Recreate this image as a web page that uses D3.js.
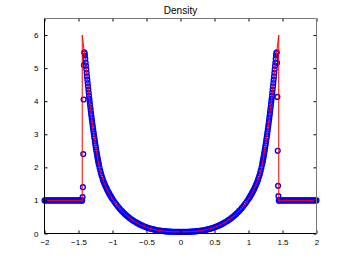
<!DOCTYPE html>
<html>
<head>
<meta charset="utf-8">
<script src="https://cdn.jsdelivr.net/npm/d3@7"></script>
<style>
  body { margin: 0; background: #fff; }
  text { font-family: "Liberation Sans", Arial, Helvetica, sans-serif; }
</style>
</head>
<body>
<script>
// Tick values
var xTicks = [-2, -1.5, -1, -0.5, 0, 0.5, 1, 1.5, 2];
var yTicks = [0, 1, 2, 3, 4, 5, 6];

// Blue circles, left half (x < 0 and x = 0)
var leftX = [
  -2, -1.98, -1.96, -1.94, -1.92, -1.9, -1.88, -1.86, -1.84, -1.82, -1.8, -1.78, -1.76, -1.74, -1.72,
  -1.7, -1.68, -1.66, -1.64, -1.62, -1.6, -1.58, -1.56, -1.54, -1.52, -1.5, -1.48, -1.46, -1.45, -1.445,
  -1.44, -1.435, -1.43, -1.425, -1.42,
  -1.415, -1.41, -1.405, -1.4, -1.395, -1.39, -1.385, -1.38, -1.375, -1.37, -1.365, -1.36, -1.355, -1.35,
  -1.345, -1.34, -1.335, -1.33, -1.325, -1.32, -1.315, -1.31, -1.305, -1.3, -1.295, -1.29, -1.285, -1.28,
  -1.275, -1.27, -1.265, -1.26, -1.255, -1.25, -1.245, -1.24, -1.235, -1.23, -1.225, -1.22, -1.215, -1.21,
  -1.205, -1.2,
  -1.19, -1.18, -1.17, -1.16, -1.15, -1.14, -1.13, -1.12, -1.11, -1.1, -1.09, -1.08, -1.07, -1.06, -1.05,
  -1.04, -1.03, -1.02, -1.01, -1,
  -0.98, -0.96, -0.94, -0.92, -0.9, -0.88, -0.86, -0.84, -0.82, -0.8, -0.78, -0.76, -0.74, -0.72, -0.7,
  -0.68, -0.66, -0.64, -0.62, -0.6, -0.58, -0.56, -0.54, -0.52, -0.5, -0.48, -0.46, -0.44, -0.42, -0.4,
  -0.38, -0.36, -0.34, -0.32, -0.3, -0.28, -0.26, -0.24, -0.22, -0.2, -0.18, -0.16, -0.14, -0.12, -0.1,
  -0.08, -0.06, -0.04, -0.02, 0
];
var leftY = [
  1, 1, 1, 1, 1, 1, 1, 1, 1, 1, 1, 1, 1, 1, 1,
  1, 1, 1, 1, 1, 1, 1, 1, 1, 1, 1, 1, 1, 1, 1,
  1.10, 1.40, 2.40, 4.05, 5.09,
  5.48, 5.45, 5.38, 5.28, 5.17, 5.07, 4.96, 4.86, 4.75, 4.65, 4.55, 4.45, 4.35, 4.26,
  4.16, 4.07, 3.98, 3.89, 3.80, 3.72, 3.63, 3.55, 3.47, 3.39, 3.31, 3.23, 3.16, 3.08,
  3.01, 2.94, 2.87, 2.80, 2.73, 2.66, 2.60, 2.53, 2.47, 2.41, 2.35, 2.29, 2.235, 2.18,
  2.13, 2.08,
  1.988, 1.900, 1.823, 1.750, 1.683, 1.620, 1.566, 1.515, 1.467, 1.420, 1.374, 1.330, 1.289, 1.250, 1.212,
  1.176, 1.140, 1.106, 1.072, 1.040,
  0.980, 0.923, 0.868, 0.815, 0.765, 0.719, 0.675, 0.633, 0.593, 0.555, 0.520, 0.487, 0.455, 0.424, 0.395,
  0.369, 0.344, 0.320, 0.297, 0.275, 0.255, 0.236, 0.218, 0.201, 0.185, 0.172, 0.159, 0.147, 0.136, 0.125,
  0.116, 0.107, 0.099, 0.092, 0.085, 0.080, 0.075, 0.070, 0.066, 0.062, 0.059, 0.057, 0.055, 0.053, 0.052,
  0.051, 0.051, 0.050, 0.050, 0.050
];

// Blue circles, right half (x > 0)
var rightX = [
  2, 1.98, 1.96, 1.94, 1.92, 1.9, 1.88, 1.86, 1.84, 1.82, 1.8, 1.78, 1.76, 1.74, 1.72,
  1.7, 1.68, 1.66, 1.64, 1.62, 1.6, 1.58, 1.56, 1.54, 1.52, 1.5, 1.48, 1.46, 1.45, 1.445,
  1.44, 1.435, 1.43, 1.425, 1.42,
  1.415, 1.41, 1.405, 1.4, 1.395, 1.39, 1.385, 1.38, 1.375, 1.37, 1.365, 1.36, 1.355, 1.35,
  1.345, 1.34, 1.335, 1.33, 1.325, 1.32, 1.315, 1.31, 1.305, 1.3, 1.295, 1.29, 1.285, 1.28,
  1.275, 1.27, 1.265, 1.26, 1.255, 1.25, 1.245, 1.24, 1.235, 1.23, 1.225, 1.22, 1.215, 1.21,
  1.205, 1.2,
  1.19, 1.18, 1.17, 1.16, 1.15, 1.14, 1.13, 1.12, 1.11, 1.1, 1.09, 1.08, 1.07, 1.06, 1.05,
  1.04, 1.03, 1.02, 1.01, 1,
  0.98, 0.96, 0.94, 0.92, 0.9, 0.88, 0.86, 0.84, 0.82, 0.8, 0.78, 0.76, 0.74, 0.72, 0.7,
  0.68, 0.66, 0.64, 0.62, 0.6, 0.58, 0.56, 0.54, 0.52, 0.5, 0.48, 0.46, 0.44, 0.42, 0.4,
  0.38, 0.36, 0.34, 0.32, 0.3, 0.28, 0.26, 0.24, 0.22, 0.2, 0.18, 0.16, 0.14, 0.12, 0.1,
  0.08, 0.06, 0.04, 0.02
];
var rightY = [
  1, 1, 1, 1, 1, 1, 1, 1, 1, 1, 1, 1, 1, 1, 1,
  1, 1, 1, 1, 1, 1, 1, 1, 1, 1, 1, 1, 1, 1, 1,
  1.13, 1.44, 2.50, 4.13, 5.16,
  5.48, 5.45, 5.38, 5.28, 5.17, 5.07, 4.96, 4.86, 4.75, 4.65, 4.55, 4.45, 4.35, 4.26,
  4.16, 4.07, 3.98, 3.89, 3.80, 3.72, 3.63, 3.55, 3.47, 3.39, 3.31, 3.23, 3.16, 3.08,
  3.01, 2.94, 2.87, 2.80, 2.73, 2.66, 2.60, 2.53, 2.47, 2.41, 2.35, 2.29, 2.235, 2.18,
  2.13, 2.08,
  1.988, 1.900, 1.823, 1.750, 1.683, 1.620, 1.566, 1.515, 1.467, 1.420, 1.374, 1.330, 1.289, 1.250, 1.212,
  1.176, 1.140, 1.106, 1.072, 1.040,
  0.980, 0.923, 0.868, 0.815, 0.765, 0.719, 0.675, 0.633, 0.593, 0.555, 0.520, 0.487, 0.455, 0.424, 0.395,
  0.369, 0.344, 0.320, 0.297, 0.275, 0.255, 0.236, 0.218, 0.201, 0.185, 0.172, 0.159, 0.147, 0.136, 0.125,
  0.116, 0.107, 0.099, 0.092, 0.085, 0.080, 0.075, 0.070, 0.066, 0.062, 0.059, 0.057, 0.055, 0.053, 0.052,
  0.051, 0.051, 0.050, 0.050
];

// Red reference line
var refX = [
  -2, -1.445, -1.445, -1.43, -1.415, -1.4, -1.38, -1.36, -1.34, -1.32, -1.3, -1.28, -1.26, -1.24, -1.22,
  -1.2, -1.18, -1.16, -1.14, -1.12, -1.1, -1.08, -1.05, -1, -0.95, -0.9, -0.8, -0.7, -0.6, -0.5, -0.4,
  -0.3, -0.2, -0.1, 0,
  0.1, 0.2, 0.3, 0.4, 0.5, 0.6, 0.7, 0.8, 0.9, 0.95, 1, 1.05, 1.08, 1.1, 1.12, 1.14, 1.16, 1.18, 1.2,
  1.22, 1.24, 1.26, 1.28, 1.3, 1.32, 1.34, 1.36, 1.38, 1.4, 1.415, 1.43, 1.445, 1.445, 2
];
var refY = [
  1, 1, 6, 5.75, 5.48, 5.28, 4.86, 4.45, 4.07, 3.72, 3.39, 3.08, 2.80, 2.53, 2.29,
  2.08, 1.90, 1.75, 1.62, 1.515, 1.42, 1.33, 1.212, 1.04, 0.895, 0.765, 0.555, 0.395, 0.275, 0.185, 0.125,
  0.085, 0.062, 0.052, 0.05,
  0.052, 0.062, 0.085, 0.125, 0.185, 0.275, 0.395, 0.555, 0.765, 0.895, 1.04, 1.212, 1.33, 1.42, 1.515, 1.62, 1.75, 1.90, 2.08,
  2.29, 2.53, 2.80, 3.08, 3.39, 3.72, 4.07, 4.45, 4.86, 5.28, 5.48, 5.75, 6, 1, 1
];

var W = 349, H = 263;
var x = d3.scaleLinear().domain([-2, 2]).range([44.5, 316.5]);
var y = d3.scaleLinear().domain([0, 6.5]).range([233.5, 18.5]);

var svg = d3.select("body").append("svg")
    .attr("width", W)
    .attr("height", H);

// blue circles
var dots = leftX.map(function(v, i) { return [v, leftY[i]]; })
    .concat(rightX.map(function(v, i) { return [v, rightY[i]]; }));

svg.append("g")
    .selectAll("circle")
    .data(dots)
    .enter()
    .append("circle")
    .attr("cx", function(d) { return x(d[0]); })
    .attr("cy", function(d) { return y(d[1]); })
    .attr("r", 2.4)
    .style("fill", "none")
    .style("stroke", "#0000ff")
    .style("stroke-width", 1.35);

// red line
var line = d3.line()
    .x(function(d) { return x(d[0]); })
    .y(function(d) { return y(d[1]); });

svg.append("path")
    .datum(refX.map(function(v, i) { return [v, refY[i]]; }))
    .attr("d", line)
    .style("fill", "none")
    .style("stroke", "#ff0000")
    .style("stroke-width", 1);

// axes box, MATLAB style with inward ticks
var xA = x.range()[0], xB = x.range()[1], yA = y.range()[0], yB = y.range()[1];
var fmt = d3.format("");

var axBottom = svg.append("g").attr("transform", "translate(0," + yA + ")")
    .call(d3.axisBottom(x).tickValues(xTicks).tickSize(-3).tickPadding(6).tickFormat(fmt));
var axTop = svg.append("g").attr("transform", "translate(0," + yB + ")")
    .call(d3.axisTop(x).tickValues(xTicks).tickSize(-3).tickFormat(""));
var axLeft = svg.append("g").attr("transform", "translate(" + xA + ",0)")
    .call(d3.axisLeft(y).tickValues(yTicks).tickSize(-3).tickPadding(6).tickFormat(fmt));
var axRight = svg.append("g").attr("transform", "translate(" + xB + ",0)")
    .call(d3.axisRight(y).tickValues(yTicks).tickSize(-3).tickFormat(""));

[axBottom, axTop, axLeft, axRight].forEach(function(g) {
    g.select(".domain").remove();
    g.selectAll("line").style("stroke", "#000");
    g.selectAll("text")
        .style("font-size", "8px")
        .style("fill", "#000")
        .style("font-family", '"Liberation Sans", Arial, Helvetica, sans-serif');
});

svg.append("line").attr("x1", xA).attr("x2", xB).attr("y1", yA).attr("y2", yA).style("stroke", "#000");
svg.append("line").attr("x1", xA).attr("x2", xA).attr("y1", yA).attr("y2", yB).style("stroke", "#000");
svg.append("line").attr("x1", xA).attr("x2", xB).attr("y1", yB).attr("y2", yB).style("stroke", "#777");
svg.append("line").attr("x1", xB).attr("x2", xB).attr("y1", yA).attr("y2", yB).style("stroke", "#777");

// title
svg.append("text")
    .attr("x", (xA + xB) / 2)
    .attr("y", 14)
    .attr("text-anchor", "middle")
    .style("font-size", "10px")
    .style("fill", "#000")
    .text("Density");
</script>
</body>
</html>
